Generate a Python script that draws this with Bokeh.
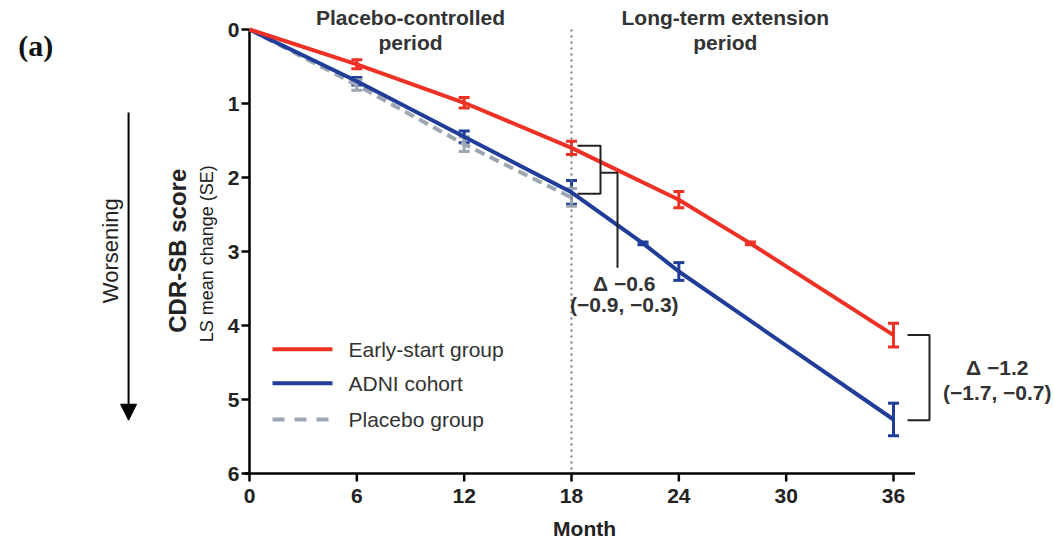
import math
from bokeh.plotting import figure
from bokeh.models import Range1d, Label, Whisker, ColumnDataSource, Arrow, NormalHead, TeeHead
from bokeh.core.properties import value
from bokeh.embed import file_html
from bokeh.resources import INLINE

# ---- data ----
early_month = [0, 6, 12, 18, 24, 28, 36]
early_mean = [0.0, 0.47, 0.99, 1.60, 2.30, 2.89, 4.13]
early_se = [0.0, 0.06, 0.07, 0.09, 0.11, 0.02, 0.16]

adni_month = [0, 6, 12, 18, 22, 24, 36]
adni_mean = [0.0, 0.70, 1.45, 2.20, 2.89, 3.27, 5.27]
adni_se = [0.0, 0.05, 0.08, 0.16, 0.02, 0.12, 0.22]

plac_month = [0, 6, 12, 18]
plac_mean = [0.0, 0.75, 1.55, 2.27]
plac_se = [0.0, 0.07, 0.10, 0.12]

x_ticks = [0, 6, 12, 18, 24, 30, 36]
y_ticks = [0, 1, 2, 3, 4, 5, 6]
delta1_text = ["Δ −0.6", "(−0.9, −0.3)"]
delta2_text = ["Δ −1.2", "(−1.7, −0.7)"]
legend_names = ["Early-start group", "ADNI cohort", "Placebo group"]

RED = "#ee3124"
BLUE = "#1f3d99"
GRAY = "#9da7b3"
TXT = "#333333"
SANS = "Liberation Sans"

W, H = 1054, 541
# scale: pixels per month / per score unit, origin of the data frame
SX, SY = 17.889, 74.0
X0PX, Y0PX = 249.0, 29.0
DX = 1.0 / SX  # one pixel in month units
DY = 1.0 / SY  # one pixel in score units

p = figure(width=W, height=H, output_backend="svg", toolbar_location=None,
           x_range=Range1d(-X0PX / SX, (W - X0PX) / SX),
           y_range=Range1d((H - Y0PX) / SY, -Y0PX / SY),
           min_border=0, min_border_left=0, min_border_right=0,
           min_border_top=0, min_border_bottom=0)
p.outline_line_color = None
p.xaxis.visible = False
p.yaxis.visible = False
p.xgrid.visible = False
p.ygrid.visible = False
p.background_fill_color = "white"
p.border_fill_color = "white"

ymax = y_ticks[-1]
xmax_axis = x_ticks[-1] + 1.2

# dotted separator at end of placebo-controlled period
p.segment(x0=[18], x1=[18], y0=[0], y1=[ymax], line_color="#777777", line_width=2, line_dash="2 4")

# ---- manual axes ----
p.segment(x0=[-5 * DX], x1=[xmax_axis], y0=[ymax], y1=[ymax], line_color="black", line_width=2.5)
p.segment(x0=[0], x1=[0], y0=[0], y1=[ymax], line_color="black", line_width=2.5)
p.segment(x0=x_ticks, x1=x_ticks, y0=[ymax] * len(x_ticks), y1=[ymax + 8 * DY] * len(x_ticks),
          line_color="black", line_width=2.5)
p.segment(x0=[-8 * DX] * len(y_ticks), x1=[0] * len(y_ticks), y0=y_ticks, y1=y_ticks,
          line_color="black", line_width=2.5)
p.text(x=x_ticks, y=[ymax + 22 * DY] * len(x_ticks), text=[str(t) for t in x_ticks],
       text_font=value(SANS), text_font_style="bold", text_font_size="21px",
       text_color="#222222", text_align="center", text_baseline="middle")
p.text(x=[-10 * DX] * len(y_ticks), y=y_ticks, text=[str(t) for t in y_ticks],
       text_font=value(SANS), text_font_style="bold", text_font_size="21px",
       text_color="#222222", text_align="right", text_baseline="middle")

# ---- series lines ----
p.line(plac_month, plac_mean, line_color=GRAY, line_width=4, line_dash="10 6")
p.line(adni_month, adni_mean, line_color=BLUE, line_width=4)
p.line(early_month, early_mean, line_color=RED, line_width=4)

def add_err(months, means, ses, color):
    src = ColumnDataSource(dict(x=months[1:], lo=[m - s for m, s in zip(means[1:], ses[1:])],
                                hi=[m + s for m, s in zip(means[1:], ses[1:])]))
    w = Whisker(source=src, base="x", lower="lo", upper="hi", dimension="height",
                line_color=color, line_width=3,
                upper_head=TeeHead(size=11, line_color=color, line_width=3),
                lower_head=TeeHead(size=11, line_color=color, line_width=3))
    p.add_layout(w)

add_err(adni_month, adni_mean, adni_se, BLUE)
add_err(plac_month, plac_mean, plac_se, GRAY)
add_err(early_month, early_mean, early_se, RED)

# ---- brackets ----
r18 = early_mean[early_month.index(18)]
pl18 = plac_mean[plac_month.index(18)]
mid18 = (r18 + pl18) / 2
bx1 = 18 + 29 * DX
bx2 = 18 + 46 * DX
p.multi_line(xs=[[18 + 6 * DX, bx1, bx1, 18 + 6 * DX], [bx1, bx2, bx2]],
             ys=[[r18 - 0.03, r18 - 0.03, pl18 - 0.05, pl18 - 0.05], [mid18, mid18, 3.22]],
             line_color="#222222", line_width=2)
r36 = early_mean[-1]
a36 = adni_mean[-1]
cx0 = 36 + 14 * DX
cx1 = 36 + 36 * DX
p.multi_line(xs=[[cx0, cx1, cx1, cx0]], ys=[[r36, r36, a36 + 0.01, a36 + 0.01]],
             line_color="#222222", line_width=2)

def lab(x, y, text, size, style="bold", font=SANS, color=TXT, angle=0, align="center"):
    p.add_layout(Label(x=x, y=y, text=text, text_font=font, text_font_size=size,
                       text_font_style=style, text_color=color, angle=angle,
                       text_align=align, text_baseline="middle"))

# delta texts
lab(20.95, 3.43, delta1_text[0], "21px")
lab(20.95, 3.71, delta1_text[1], "21px")
lab(41.8, 4.57, delta2_text[0], "21px")
lab(41.8, 4.90, delta2_text[1], "21px")

# period headers
lab(9.0, -0.16, "Placebo-controlled", "21px")
lab(9.0, 0.175, "period", "21px")
lab(26.6, -0.16, "Long-term extension", "21px")
lab(26.6, 0.175, "period", "21px")

# axis titles
lab(18.73, 6.74, "Month", "21px", color="#222222")
lab(-4.0, 2.99, "CDR-SB score", "24px", color="#222222", angle=math.pi / 2)
lab(-2.4, 3.03, "LS mean change (SE)", "18px", style="normal", color="#222222", angle=math.pi / 2)
lab(-7.75, 2.99, "Worsening", "22px", style="normal", color="#222222", angle=math.pi / 2)
lab(-11.95, 0.22, "(a)", "30px", font="Liberation Serif", color="#111111")

# worsening arrow
p.add_layout(Arrow(x_start=-6.76, y_start=1.12, x_end=-6.76, y_end=5.28, line_width=2,
                   line_color="black",
                   end=NormalHead(size=16, fill_color="black", line_color="black")))

# legend (manual)
leg_y = [4.32, 4.78, 5.27]
lx0, lx1 = 23 * DX, 83 * DX
p.segment(x0=[lx0], x1=[lx1], y0=[leg_y[0]], y1=[leg_y[0]], line_color=RED, line_width=4)
p.segment(x0=[lx0], x1=[lx1], y0=[leg_y[1]], y1=[leg_y[1]], line_color=BLUE, line_width=4)
p.segment(x0=[lx0], x1=[lx1], y0=[leg_y[2]], y1=[leg_y[2]], line_color=GRAY, line_width=4, line_dash="12 10")
for yy, name in zip(leg_y, legend_names):
    lab(99 * DX, yy, name, "21px", style="normal", align="left")

open("out.html", "w").write(file_html(p, INLINE))
